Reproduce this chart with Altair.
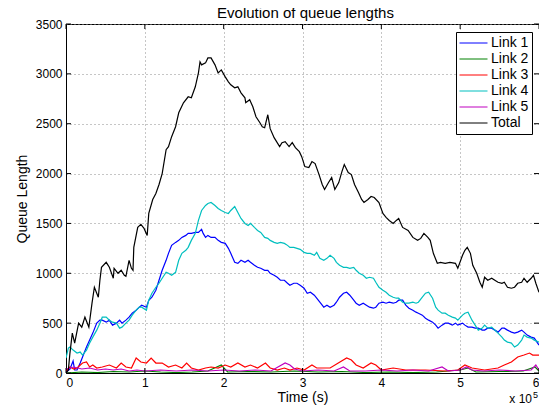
import altair as alt
import pandas as pd

# ---- data (time in units of 1e5 s, queue length) ----
series_names = ["Link 1", "Link 2", "Link 3", "Link 4", "Link 5", "Total"]
series_colors = ["#0000ff", "#008000", "#ff0000", "#00bfbf", "#bf00bf", "#000000"]

total_t = [0.0, 0.03, 0.05, 0.08, 0.11, 0.16, 0.20, 0.24, 0.29, 0.33, 0.36, 0.41, 0.43, 0.45, 0.51, 0.55, 0.60, 0.61, 0.66, 0.70,
           0.74, 0.76, 0.80, 0.83, 0.85, 0.86, 0.91, 0.95, 0.99, 1.03, 1.05, 1.10, 1.14, 1.18, 1.22, 1.27, 1.30, 1.34, 1.39, 1.43,
           1.49, 1.55, 1.59, 1.64, 1.68, 1.70, 1.72, 1.77, 1.80, 1.84, 1.89, 1.93, 1.97, 2.02, 2.06, 2.09, 2.14, 2.18, 2.22, 2.27,
           2.28, 2.33, 2.37, 2.41, 2.46, 2.49, 2.52, 2.56, 2.59, 2.64, 2.71, 2.74, 2.78, 2.83, 2.87, 2.91, 2.96, 2.99, 3.03, 3.08,
           3.12, 3.16, 3.21, 3.25, 3.28, 3.33, 3.37, 3.41, 3.46, 3.50, 3.53, 3.58, 3.62, 3.66, 3.71, 3.75, 3.78, 3.83, 3.87, 3.91,
           3.97, 4.02, 4.06, 4.10, 4.15, 4.19, 4.22, 4.27, 4.34, 4.40, 4.46, 4.50, 4.54, 4.59, 4.62, 4.66, 4.71, 4.75, 4.81, 4.87,
           4.94, 4.97, 5.03, 5.06, 5.09, 5.13, 5.16, 5.21, 5.25, 5.28, 5.31, 5.35, 5.40, 5.44, 5.48, 5.53, 5.56, 5.60, 5.65, 5.69,
           5.73, 5.78, 5.81, 5.85, 5.90, 5.93, 5.96, 6.0]
total_v = [0, 30, 200, 400, 300, 500, 460, 560, 460, 700, 860, 760, 930, 1060, 1110, 1060, 950, 1050, 1000, 1030,
           980, 970, 1130, 1050, 1030, 1260, 1460, 1490, 1450, 1380, 1600, 1740, 1800, 1890, 2000, 2240, 2270, 2370, 2470, 2610,
           2710, 2770, 2760, 2870, 3010, 3120, 3090, 3110, 3160, 3160, 3090, 3010, 3040, 2970, 2920, 2890, 2860, 2870, 2810, 2760,
           2710, 2740, 2670, 2570, 2510, 2470, 2460, 2590, 2450, 2360, 2270, 2310, 2320, 2270, 2310, 2260, 2220, 2170, 2070, 2060,
           2120, 2100, 1990, 1890, 1840, 1910, 1960, 1840, 1910, 2020, 2090, 2010, 1990, 1890, 1810, 1740, 1710, 1740, 1770, 1760,
           1710, 1600, 1560, 1530, 1500, 1530, 1550, 1460, 1430, 1360, 1330, 1350, 1400, 1360, 1330, 1200, 1100, 1110, 1100, 1110,
           1100, 1050, 1180, 1230, 1260, 1200, 1080, 1000, 910, 860, 960, 930, 950, 930, 910, 900, 910, 860, 850, 860,
           900, 910, 950, 910, 950, 980, 900, 810]

link1_t = [0.0, 0.05, 0.09, 0.11, 0.14, 0.18, 0.21, 0.26, 0.30, 0.34, 0.39, 0.43, 0.46, 0.51, 0.55, 0.59, 0.64, 0.68, 0.71, 0.76,
           0.80, 0.84, 0.89, 0.93, 0.96, 1.02, 1.05, 1.09, 1.14, 1.18, 1.22, 1.27, 1.30, 1.34, 1.39, 1.43, 1.47, 1.52, 1.55, 1.59,
           1.64, 1.68, 1.72, 1.74, 1.77, 1.80, 1.84, 1.89, 1.93, 1.97, 2.02, 2.06, 2.09, 2.14, 2.18, 2.22, 2.27, 2.31, 2.34, 2.39,
           2.43, 2.47, 2.52, 2.56, 2.59, 2.64, 2.68, 2.72, 2.77, 2.81, 2.84, 2.89, 2.93, 2.97, 3.02, 3.06, 3.10, 3.15, 3.18, 3.22,
           3.27, 3.31, 3.35, 3.40, 3.43, 3.47, 3.52, 3.56, 3.60, 3.65, 3.68, 3.72, 3.77, 3.81, 3.85, 3.90, 3.93, 3.97, 4.02, 4.06,
           4.10, 4.15, 4.19, 4.22, 4.27, 4.31, 4.35, 4.40, 4.44, 4.47, 4.52, 4.56, 4.60, 4.65, 4.69, 4.72, 4.77, 4.81, 4.85, 4.90,
           4.94, 4.97, 5.03, 5.06, 5.10, 5.15, 5.19, 5.23, 5.28, 5.31, 5.35, 5.40, 5.44, 5.48, 5.53, 5.56, 5.60, 5.65, 5.69, 5.73,
           5.78, 5.81, 5.85, 5.90, 5.94, 6.0]
link1_v = [10, 40, 120, 30, 30, 100, 160, 260, 330, 400, 500, 530, 530, 510, 530, 480, 500, 530, 500, 530,
           560, 600, 630, 660, 680, 660, 730, 760, 830, 930, 1030, 1130, 1200, 1280, 1310, 1330, 1360, 1380, 1400, 1400,
           1410, 1410, 1440, 1400, 1360, 1380, 1360, 1360, 1330, 1310, 1300, 1250, 1200, 1110, 1100, 1130, 1110, 1130, 1110, 1080,
           1060, 1050, 1030, 1030, 1000, 980, 960, 930, 930, 900, 880, 900, 900, 880, 850, 800, 810, 780, 750, 710,
           660, 680, 660, 680, 710, 760, 800, 810, 780, 730, 700, 680, 700, 680, 660, 650, 660, 700, 710, 700,
           710, 700, 710, 730, 730, 680, 650, 630, 610, 600, 580, 550, 530, 510, 480, 450, 480, 500, 500, 480,
           500, 480, 500, 480, 460, 460, 450, 450, 430, 430, 450, 450, 430, 410, 450, 450, 430, 410, 400, 410,
           430, 410, 380, 360, 350, 280]

link2_t = [0.0, 0.2, 0.4, 0.6, 0.8, 1.0, 1.2, 1.4, 1.6, 1.8, 1.97, 2.05, 2.3, 2.6, 2.9, 3.2, 3.5, 3.8, 4.1, 4.4,
           4.7, 5.0, 5.1, 5.2, 5.5, 5.8, 5.95, 6.0]
link2_v = [0, 10, 5, 15, 10, 20, 10, 5, 10, 20, 80, 10, 15, 10, 20, 10, 15, 5, 10, 5,
           10, 30, 50, 10, 15, 20, 60, 20]

link3_t = [0.0, 0.05, 0.10, 0.14, 0.21, 0.26, 0.30, 0.34, 0.39, 0.46, 0.55, 0.64, 0.70, 0.76, 0.83, 0.89, 0.95, 1.02, 1.08, 1.14,
           1.22, 1.30, 1.39, 1.47, 1.53, 1.59, 1.68, 1.77, 1.84, 1.93, 2.02, 2.09, 2.18, 2.27, 2.34, 2.43, 2.53, 2.59, 2.68, 2.77,
           2.84, 2.93, 3.02, 3.12, 3.18, 3.35, 3.56, 3.62, 3.68, 3.77, 3.87, 3.93, 4.00, 4.15, 4.31, 4.56, 4.81, 4.97, 5.06, 5.15,
           5.31, 5.48, 5.56, 5.65, 5.73, 5.81, 5.88, 5.92, 6.0]
link3_v = [20, 60, 40, 50, 100, 110, 60, 80, 50, 60, 80, 50, 100, 60, 50, 150, 110, 100, 150, 100,
           100, 60, 80, 50, 100, 50, 30, 50, 60, 50, 80, 60, 100, 60, 80, 50, 100, 50, 30, 50,
           30, 50, 30, 80, 50, 50, 150, 130, 80, 50, 100, 80, 30, 50, 30, 30, 20, 30, 80, 50,
           30, 50, 80, 110, 160, 180, 200, 180, 180]

link4_t = [0.0, 0.03, 0.05, 0.09, 0.14, 0.18, 0.21, 0.26, 0.30, 0.34, 0.39, 0.43, 0.46, 0.51, 0.55, 0.59, 0.64, 0.68, 0.71, 0.76,
           0.80, 0.84, 0.89, 0.93, 0.96, 1.02, 1.05, 1.09, 1.14, 1.18, 1.22, 1.27, 1.30, 1.34, 1.39, 1.43, 1.47, 1.52, 1.55, 1.59,
           1.64, 1.68, 1.72, 1.77, 1.80, 1.84, 1.89, 1.93, 1.97, 2.02, 2.06, 2.09, 2.14, 2.18, 2.22, 2.27, 2.31, 2.34, 2.39, 2.43,
           2.47, 2.52, 2.56, 2.59, 2.64, 2.68, 2.72, 2.77, 2.81, 2.84, 2.89, 2.93, 2.97, 3.02, 3.06, 3.10, 3.15, 3.18, 3.22, 3.27,
           3.31, 3.35, 3.40, 3.43, 3.47, 3.52, 3.56, 3.60, 3.65, 3.68, 3.72, 3.77, 3.81, 3.85, 3.90, 3.93, 3.97, 4.02, 4.06, 4.10,
           4.15, 4.19, 4.22, 4.27, 4.31, 4.35, 4.40, 4.44, 4.47, 4.52, 4.56, 4.60, 4.65, 4.69, 4.72, 4.77, 4.81, 4.85, 4.90, 4.94,
           4.97, 5.03, 5.06, 5.10, 5.15, 5.19, 5.23, 5.28, 5.31, 5.35, 5.40, 5.44, 5.48, 5.53, 5.56, 5.60, 5.65, 5.69, 5.73, 5.78,
           5.81, 5.85, 5.90, 5.94, 6.0]
link4_v = [150, 250, 260, 230, 200, 210, 180, 230, 300, 360, 430, 500, 560, 560, 530, 510, 500, 450, 460, 500,
           530, 580, 630, 660, 660, 630, 730, 800, 860, 900, 950, 1010, 1000, 980, 1010, 1130, 1200, 1230, 1260, 1330,
           1400, 1530, 1630, 1680, 1700, 1710, 1680, 1650, 1630, 1610, 1600, 1630, 1670, 1610, 1550, 1500, 1480, 1500, 1460, 1430,
           1410, 1360, 1350, 1330, 1310, 1300, 1310, 1300, 1280, 1260, 1260, 1250, 1240, 1210, 1200, 1200, 1180, 1210, 1150, 1130,
           1150, 1180, 1150, 1110, 1080, 1060, 1060, 1050, 1060, 1030, 1000, 980, 950, 960, 950, 910, 860, 830, 810, 780,
           760, 750, 750, 710, 700, 700, 710, 700, 710, 760, 800, 810, 750, 660, 630, 600, 600, 580, 560, 550,
           530, 580, 600, 610, 530, 480, 430, 450, 480, 450, 460, 430, 400, 360, 330, 310, 300, 260, 280, 330,
           380, 360, 350, 330, 310]

link5_t = [0.0, 0.1, 0.2, 0.3, 0.4, 0.5, 0.6, 0.7, 0.8, 0.9, 1.0, 1.2, 1.4, 1.6, 1.8, 2.0, 2.2, 2.4, 2.6, 2.78,
           2.84, 2.9, 3.0, 3.2, 3.4, 3.52, 3.6, 3.8, 4.0, 4.2, 4.4, 4.6, 4.77, 4.85, 5.0, 5.08, 5.15, 5.3, 5.5, 5.7,
           5.9, 5.96, 6.0]
link5_v = [40, 60, 40, 50, 30, 40, 30, 40, 20, 30, 20, 30, 20, 30, 20, 30, 20, 30, 20, 100,
           80, 40, 20, 30, 20, 60, 20, 20, 30, 20, 30, 20, 60, 20, 30, 60, 30, 20, 30, 20,
           30, 80, 30]

x_tick_values = [0, 1, 2, 3, 4, 5, 6]
y_tick_values = [0, 500, 1000, 1500, 2000, 2500, 3000, 3500]
title_text = "Evolution of queue lengths"

# ---- build table ----
series_t = [link1_t, link2_t, link3_t, link4_t, link5_t, total_t]
series_v = [link1_v, link2_v, link3_v, link4_v, link5_v, total_v]
frames = []
for name, ts, vs in zip(series_names, series_t, series_v):
    frames.append(pd.DataFrame({"t": ts, "q": vs, "series": name}))
df = pd.concat(frames, ignore_index=True)

W, H = 473, 349
FONT = "Liberation Sans"

xscale = alt.Scale(domain=[0, 6], nice=False, zero=False)
yscale = alt.Scale(domain=[0, 3500], nice=False)
cscale = alt.Scale(domain=series_names, range=series_colors)

lines = alt.Chart(df).mark_line(strokeWidth=1.2, clip=True).encode(
    x=alt.X("t:Q", scale=xscale,
            axis=alt.Axis(values=x_tick_values, title="Time (s)", format="d",
                          labelPadding=4, titlePadding=2, grid=True)),
    y=alt.Y("q:Q", scale=yscale,
            axis=alt.Axis(values=y_tick_values, title="Queue Length", format="d",
                          labelPadding=4, titlePadding=6, grid=True)),
    color=alt.Color("series:N", scale=cscale,
                    legend=alt.Legend(title=None, orient="none", legendX=W - 83, legendY=8,
                                      symbolType="stroke", symbolSize=784, symbolStrokeWidth=1,
                                      clipHeight=16, rowPadding=0, padding=3,
                                      strokeColor="black", fillColor="white",
                                      labelFontSize=14, labelFont=FONT, labelOffset=3,
                                      labelColor="black", cornerRadius=0)),
    order=alt.Order("t:Q"),
)

# inward tick marks (MATLAB style)
xt = pd.DataFrame({"t": x_tick_values})
yt = pd.DataFrame({"q": y_tick_values})
tick_bottom = alt.Chart(xt).mark_rule(color="black", strokeWidth=1).encode(
    x=alt.X("t:Q", scale=xscale), y=alt.value(H), y2=alt.value(H - 5))
tick_top = alt.Chart(xt).mark_rule(color="black", strokeWidth=1).encode(
    x=alt.X("t:Q", scale=xscale), y=alt.value(0), y2=alt.value(5))
tick_left = alt.Chart(yt).mark_rule(color="black", strokeWidth=1).encode(
    y=alt.Y("q:Q", scale=yscale), x=alt.value(0), x2=alt.value(5))
tick_right = alt.Chart(yt).mark_rule(color="black", strokeWidth=1).encode(
    y=alt.Y("q:Q", scale=yscale), x=alt.value(W), x2=alt.value(W - 5))

title_mark = alt.Chart(pd.DataFrame({"s": [title_text]})).mark_text(
    align="center", baseline="alphabetic", fontSize=15, font=FONT, color="black").encode(
    text="s:N", x=alt.value(W / 2 + 3), y=alt.value(-6))
exp_text = alt.Chart(pd.DataFrame({"s": ["x 10"]})).mark_text(
    align="right", baseline="alphabetic", fontSize=12, font=FONT, color="black").encode(
    text="s:N", x=alt.value(W - 7), y=alt.value(379))
exp_sup = alt.Chart(pd.DataFrame({"s": ["5"]})).mark_text(
    align="left", baseline="alphabetic", fontSize=9, font=FONT, color="black").encode(
    text="s:N", x=alt.value(W - 6), y=alt.value(374))

chart = alt.layer(lines, tick_bottom, tick_top, tick_left, tick_right,
                  title_mark, exp_text, exp_sup).properties(
    width=W, height=H,
    background="white",
    autosize=alt.AutoSizeParams(type="none"),
    padding={"left": 58, "top": 16, "right": 0, "bottom": 32},
).configure_axis(
    domainColor="black", domainWidth=1, ticks=False,
    labelFont=FONT, labelFontSize=12, labelColor="black",
    titleFont=FONT, titleFontSize=14, titleFontWeight="normal", titleColor="black",
    gridColor="#8c8c8c", gridDash=[1, 3], gridWidth=1, gridOpacity=1,
).configure_view(stroke="black", strokeWidth=1)

chart.save("out.html", embed_options={"renderer": "svg", "actions": False})
